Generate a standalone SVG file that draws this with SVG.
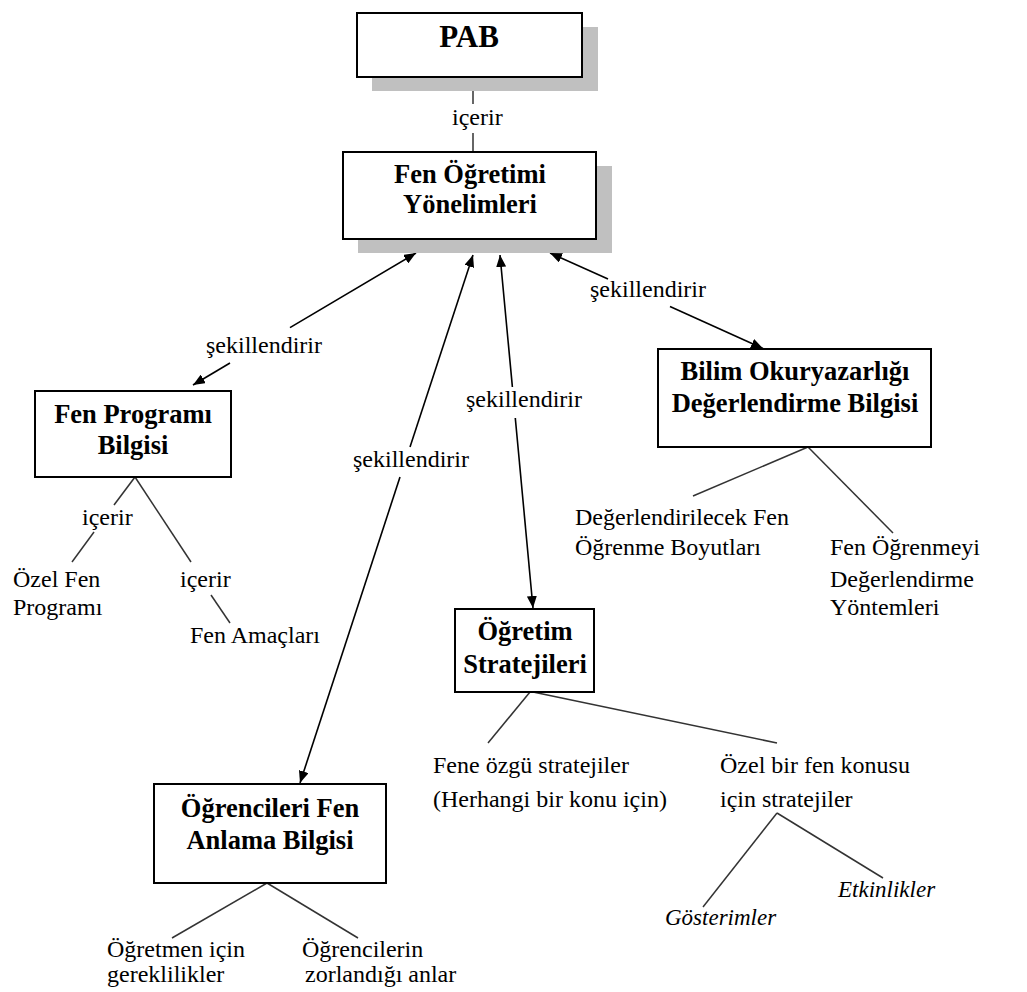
<svg xmlns="http://www.w3.org/2000/svg" width="1027" height="992" viewBox="0 0 1027 992">
<defs>
<marker id="ah" viewBox="0 0 12 10" refX="12" refY="5" markerWidth="12" markerHeight="10" markerUnits="userSpaceOnUse" orient="auto-start-reverse">
<path d="M0,0 L12,5 L0,10 Z" fill="#000"/>
</marker>
<style>
.box{fill:#fff;stroke:#000;stroke-width:2}
.sh{fill:#c0c0c0}
.b{font-family:"Liberation Serif",serif;font-weight:bold;font-size:26.5px;fill:#000;text-anchor:middle}
.t{font-family:"Liberation Serif",serif;font-size:24px;fill:#000}
.i{font-family:"Liberation Serif",serif;font-style:italic;font-size:23px;fill:#000}
.ar{stroke:#000;stroke-width:1.6;fill:none}
.ln{stroke:#333;stroke-width:1.5;fill:none}
</style>
</defs>
<rect width="1027" height="992" fill="#fff"/>

<g id="connectors">
<line class="ln" x1="473" y1="77" x2="473" y2="104"/>
<line class="ln" x1="473" y1="133" x2="473" y2="152"/>
<line class="ar" x1="290" y1="327.6" x2="416" y2="253" marker-end="url(#ah)"/>
<line class="ar" x1="230" y1="363" x2="193" y2="385" marker-end="url(#ah)"/>
<line class="ar" x1="410" y1="447" x2="473" y2="255" marker-end="url(#ah)"/>
<line class="ar" x1="400" y1="477" x2="300" y2="783" marker-end="url(#ah)"/>
<line class="ar" x1="512.4" y1="387" x2="500" y2="255" marker-end="url(#ah)"/>
<line class="ar" x1="515.3" y1="418" x2="533" y2="608" marker-end="url(#ah)"/>
<line class="ar" x1="608" y1="278.9" x2="550" y2="253" marker-end="url(#ah)"/>
<line class="ar" x1="670" y1="306.5" x2="763" y2="348.5" marker-end="url(#ah)"/>
<line class="ln" x1="135" y1="477" x2="114" y2="505"/>
<line class="ln" x1="94" y1="532" x2="72" y2="562"/>
<line class="ln" x1="135" y1="477" x2="191" y2="562"/>
<line class="ln" x1="211" y1="595" x2="230" y2="623"/>
<line class="ln" x1="808" y1="447" x2="693" y2="496"/>
<line class="ln" x1="808" y1="447" x2="893" y2="533"/>
<line class="ln" x1="267" y1="883" x2="172" y2="938"/>
<line class="ln" x1="267" y1="883" x2="358" y2="938"/>
<line class="ln" x1="530" y1="692" x2="488" y2="743"/>
<line class="ln" x1="533" y1="692" x2="777" y2="743"/>
<line class="ln" x1="777" y1="813" x2="703" y2="907"/>
<line class="ln" x1="777" y1="813" x2="883" y2="878"/>
<text class="t" x="452" y="125">içerir</text>
<text class="t" x="206" y="353">şekillendirir</text>
<text class="t" x="353" y="467">şekillendirir</text>
<text class="t" x="466" y="407">şekillendirir</text>
<text class="t" x="590" y="297">şekillendirir</text>
<text class="t" x="82" y="525">içerir</text>
<text class="t" x="180" y="587">içerir</text>
</g>

<g id="pab">
<rect class="sh" x="372" y="27" width="226" height="64"/>
<rect class="box" x="357" y="13" width="225" height="64"/>
<text class="b" x="469" y="47" style="font-size:31px">PAB</text>
</g>

<g id="fen-ogretimi">
<rect class="sh" x="358" y="166" width="254" height="87"/>
<rect class="box" x="343" y="152" width="253" height="87"/>
<text class="b" x="470" y="183">Fen Öğretimi</text>
<text class="b" x="470" y="213">Yönelimleri</text>
</g>

<g id="fen-programi">
<rect class="box" x="35" y="391" width="196" height="86"/>
<text class="b" x="133" y="423">Fen Programı</text>
<text class="b" x="133" y="454">Bilgisi</text>
</g>

<g id="ozel-fen-programi">
<text class="t" x="13" y="587">Özel Fen</text>
<text class="t" x="13" y="615">Programı</text>
</g>

<g id="fen-amaclari">
<text class="t" x="190" y="643">Fen Amaçları</text>
</g>

<g id="bilim">
<rect class="box" x="658" y="349" width="273" height="98"/>
<text class="b" x="795" y="380">Bilim Okuryazarlığı</text>
<text class="b" x="795" y="412">Değerlendirme Bilgisi</text>
</g>

<g id="degerlendirilecek">
<text class="t" x="575" y="525">Değerlendirilecek Fen</text>
<text class="t" x="575" y="555">Öğrenme Boyutları</text>
</g>

<g id="fen-ogrenmeyi">
<text class="t" x="830" y="555">Fen Öğrenmeyi</text>
<text class="t" x="830" y="587">Değerlendirme</text>
<text class="t" x="830" y="615">Yöntemleri</text>
</g>

<g id="ogretim-stratejileri">
<rect class="box" x="455" y="609" width="139" height="83"/>
<text class="b" x="525" y="640">Öğretim</text>
<text class="b" x="525" y="673">Stratejileri</text>
</g>

<g id="fene-ozgu">
<text class="t" x="433" y="773">Fene özgü stratejiler</text>
<text class="t" x="433" y="807">(Herhangi bir konu için)</text>
</g>

<g id="ozel-bir-fen">
<text class="t" x="720" y="773">Özel bir fen konusu</text>
<text class="t" x="720" y="807">için stratejiler</text>
</g>

<g id="gosterimler">
<text class="i" x="665" y="925">Gösterimler</text>
</g>

<g id="etkinlikler">
<text class="i" x="838" y="897">Etkinlikler</text>
</g>

<g id="ogrencileri">
<rect class="box" x="154" y="784" width="232" height="99"/>
<text class="b" x="270" y="817">Öğrencileri Fen</text>
<text class="b" x="270" y="849">Anlama Bilgisi</text>
</g>

<g id="ogretmen-icin">
<text class="t" x="107" y="957">Öğretmen için</text>
<text class="t" x="107" y="982">gereklilikler</text>
</g>

<g id="ogrencilerin">
<text class="t" x="302" y="957">Öğrencilerin</text>
<text class="t" x="305" y="982">zorlandığı anlar</text>
</g>
</svg>
